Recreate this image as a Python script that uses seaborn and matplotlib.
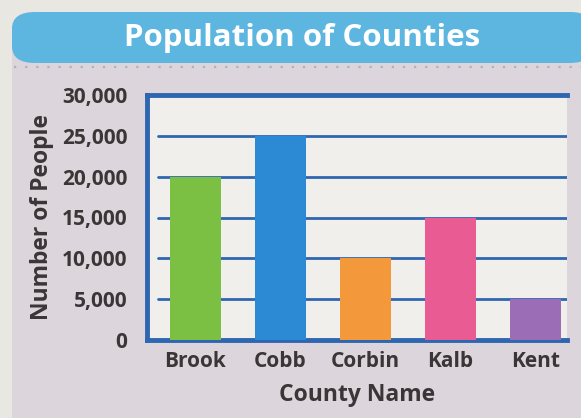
import matplotlib
matplotlib.use("Agg")
import matplotlib.pyplot as plt
from matplotlib.patches import FancyBboxPatch
import seaborn as sns
import pandas as pd

counties = ["Brook", "Cobb", "Corbin", "Kalb", "Kent"]
population = [20000, 25000, 10000, 15000, 5000]
bar_colors = ["#7cc043", "#2b8ad3", "#f4983c", "#e95c93", "#9b6db6"]
y_ticks = [0, 5000, 10000, 15000, 20000, 25000, 30000]
y_tick_labels = ["0", "5,000", "10,000", "15,000", "20,000", "25,000", "30,000"]
title = "Population of Counties"
x_label = "County Name"
y_label = "Number of People"

sns.set_theme(style="white")
plt.rcParams["font.family"] = ["Open Sans", "DejaVu Sans"]

W, H = 581, 418
fig = plt.figure(figsize=(W / 100, H / 100), dpi=100)
fig.patch.set_facecolor("#e9e7e2")

# panel background
panel = FancyBboxPatch((12 / W, -0.2), 1, (H - 12) / H + 0.2, boxstyle="round,pad=0,rounding_size=0.04",
                       transform=fig.transFigure, facecolor="#dcd6dc", edgecolor="none", zorder=0)
fig.patches.append(panel)
banner = FancyBboxPatch((12 / W, 1 - 63 / H), 1, (63 - 12) / H,
                        boxstyle="round,pad=0,rounding_size=0.04",
                        transform=fig.transFigure, facecolor="#5cb6e0", edgecolor="none", zorder=1)
fig.patches.append(banner)
fig.add_artist(plt.Line2D([14 / W, 1], [1 - 67 / H, 1 - 67 / H], transform=fig.transFigure,
                          color="#a9b3c0", lw=1.6, ls=(0, (1, 4)), zorder=2))
fig.text(302 / W, 1 - 38 / H, title, color="white", fontsize=22.5, fontweight="bold",
         ha="center", va="center", zorder=3)

ax = fig.add_axes([147 / W, 1 - 340 / H, (567 - 147) / W, (340 - 95) / H])
ax.set_zorder(5)
ax.set_facecolor("#f1efeb")

df = pd.DataFrame({"County": counties, "Population": population})
sns.barplot(data=df, x="County", y="Population", hue="County", palette=bar_colors,
            width=0.6, legend=False, ax=ax, saturation=1, zorder=3, linewidth=0)

line_blue = "#2e66b0"
for yv in y_ticks[1:-1]:
    ax.axhline(yv, xmin=0.026, xmax=1, color=line_blue, lw=2, zorder=1)

ax.set_ylim(0, 30000)
ax.set_xlim(-0.57, 4.37)
ax.set_yticks(y_ticks)
ax.set_yticklabels(y_tick_labels)
for side in ["left", "top", "bottom"]:
    ax.spines[side].set_color(line_blue)
    ax.spines[side].set_linewidth(3.5)
ax.spines["right"].set_visible(False)
ax.tick_params(axis="both", length=0, colors="#3a3536")
ax.tick_params(axis="y", pad=14, labelsize=15)
ax.tick_params(axis="x", pad=8, labelsize=15)
for t in ax.get_xticklabels() + ax.get_yticklabels():
    t.set_fontweight("bold")
ax.set_xlabel(x_label, fontsize=16.5, fontweight="bold", color="#3a3536", labelpad=8)
ax.set_ylabel(y_label, fontsize=16.5, fontweight="bold", color="#3a3536", labelpad=6)

fig.savefig("out.png", dpi=100, facecolor=fig.get_facecolor())
